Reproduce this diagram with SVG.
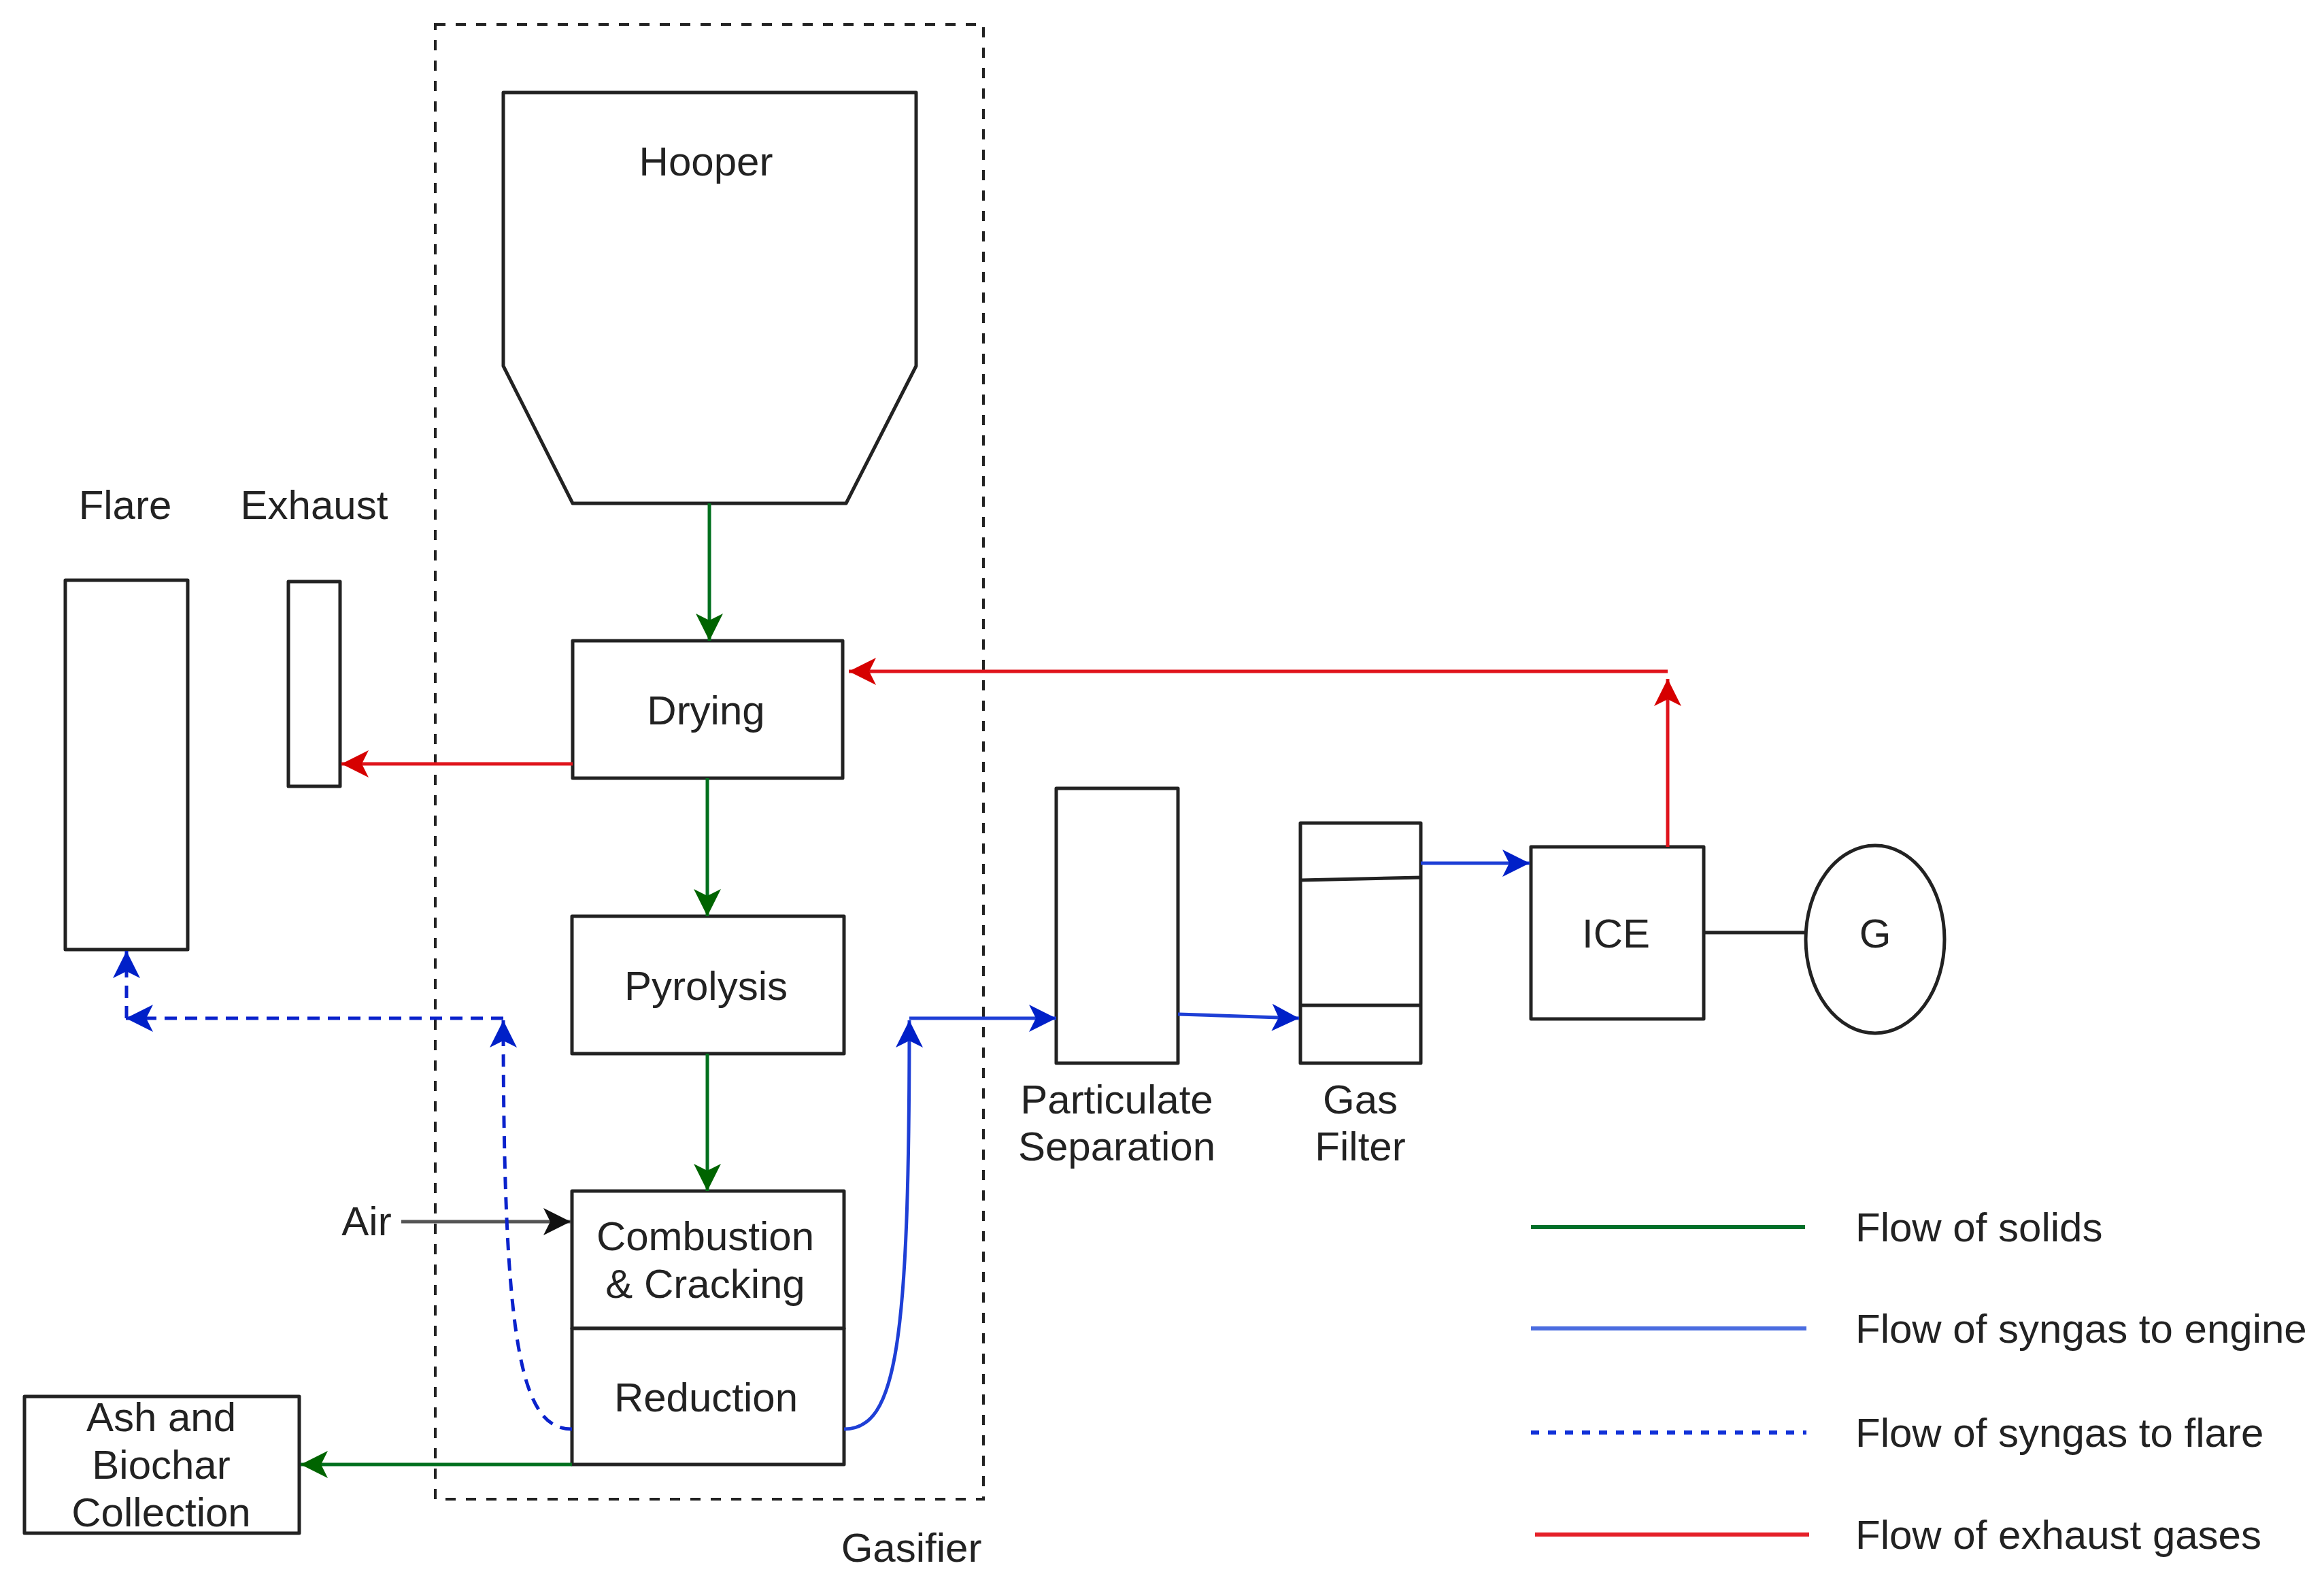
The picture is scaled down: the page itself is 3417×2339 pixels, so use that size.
<svg xmlns="http://www.w3.org/2000/svg" width="3417" height="2339" viewBox="0 0 3417 2339">
<style>
.box{fill:#fff;stroke:#222;stroke-width:5;stroke-linejoin:round}
.t{font-family:"Liberation Sans",Arial,sans-serif;font-size:60px;fill:#222;text-anchor:middle}
.tl{font-family:"Liberation Sans",Arial,sans-serif;font-size:60px;fill:#222;text-anchor:start}
.g{fill:none;stroke:#00701E;stroke-width:5}
.r{fill:none;stroke:#E0141C;stroke-width:5}
.b{fill:none;stroke:#1E3FD6;stroke-width:5}
.bd{fill:none;stroke:#0A22CC;stroke-width:5;stroke-dasharray:18 12}
.k{fill:none;stroke:#555;stroke-width:5}
</style>
<defs>
<marker id="ag" viewBox="0 0 40 40" refX="40" refY="20" markerWidth="40" markerHeight="40" markerUnits="userSpaceOnUse" orient="auto"><path d="M0,0 L40,20 L0,40 L10,20 Z" fill="#006400"/></marker>
<marker id="ar" viewBox="0 0 40 40" refX="40" refY="20" markerWidth="40" markerHeight="40" markerUnits="userSpaceOnUse" orient="auto"><path d="M0,0 L40,20 L0,40 L10,20 Z" fill="#D60000"/></marker>
<marker id="ab" viewBox="0 0 40 40" refX="40" refY="20" markerWidth="40" markerHeight="40" markerUnits="userSpaceOnUse" orient="auto"><path d="M0,0 L40,20 L0,40 L10,20 Z" fill="#0020C8"/></marker>
<marker id="ak" viewBox="0 0 40 40" refX="40" refY="20" markerWidth="40" markerHeight="40" markerUnits="userSpaceOnUse" orient="auto"><path d="M0,0 L40,20 L0,40 L10,20 Z" fill="#111"/></marker>
</defs>
<rect width="3417" height="2339" fill="#fff"/>

<g id="gasifier">
<rect x="640" y="36" width="806" height="2168" fill="none" stroke="#222" stroke-width="4" stroke-dasharray="15 15"/>
<text class="t" x="1340" y="2296">Gasifier</text>
</g>

<g id="hopper">
<polygon class="box" points="740,136 1347,136 1347,538 1244,740 842,740 740,538"/>
<text class="t" x="1038" y="258">Hooper</text>
</g>

<g id="drying">
<rect class="box" x="842" y="942" width="397" height="202"/>
<text class="t" x="1038" y="1065">Drying</text>
</g>

<g id="pyrolysis">
<rect class="box" x="841" y="1347" width="400" height="202"/>
<text class="t" x="1038" y="1470">Pyrolysis</text>
</g>

<g id="combustion">
<rect class="box" x="841" y="1751" width="400" height="202"/>
<text class="t" x="1037" y="1838">Combustion</text>
<text class="t" x="1037" y="1908">&amp; Cracking</text>
</g>

<g id="reduction">
<rect class="box" x="841" y="1953" width="400" height="200"/>
<text class="t" x="1038" y="2075">Reduction</text>
</g>

<g id="flare">
<rect class="box" x="96" y="853" width="180" height="543"/>
<text class="t" x="184" y="763">Flare</text>
</g>

<g id="exhaust">
<rect class="box" x="424" y="855" width="76" height="301"/>
<text class="t" x="462" y="763">Exhaust</text>
</g>

<g id="ash">
<rect class="box" x="36" y="2053" width="404" height="201"/>
<text class="t" x="237" y="2104">Ash and</text>
<text class="t" x="237" y="2174">Biochar</text>
<text class="t" x="237" y="2244">Collection</text>
</g>

<g id="air">
<text class="t" x="539" y="1816">Air</text>
</g>

<g id="particulate">
<rect class="box" x="1553" y="1159" width="179" height="404"/>
<text class="t" x="1642" y="1637">Particulate</text>
<text class="t" x="1642" y="1706">Separation</text>
</g>

<g id="gasfilter">
<rect class="box" x="1912" y="1210" width="177" height="353"/>
<path d="M1912,1294 L2089,1290 M1912,1478 L2089,1478" fill="none" stroke="#222" stroke-width="5"/>
<text class="t" x="2000" y="1637">Gas</text>
<text class="t" x="2000" y="1706">Filter</text>
</g>

<g id="ice">
<rect class="box" x="2251" y="1245" width="254" height="253"/>
<text class="t" x="2376" y="1393">ICE</text>
</g>

<g id="generator">
<ellipse cx="2757" cy="1381" rx="102" ry="138" fill="#fff" stroke="#222" stroke-width="5"/>
<text class="t" x="2757" y="1393">G</text>
</g>

<g id="connectors">
<path class="g" d="M1043,740 L1043,942" marker-end="url(#ag)"/>
<path class="g" d="M1040,1144 L1040,1347" marker-end="url(#ag)"/>
<path class="g" d="M1040,1549 L1040,1751" marker-end="url(#ag)"/>
<path class="g" d="M841,2153 L442,2153" marker-end="url(#ag)"/>
<path class="k" d="M590,1796 L839,1796" marker-end="url(#ak)"/>
<path class="r" d="M842,1123 L502,1123" marker-end="url(#ar)"/>
<path class="r" d="M2452,1245 L2452,998" marker-end="url(#ar)"/>
<path class="r" d="M2452,987 L1248,987" marker-end="url(#ar)"/>
<path class="b" d="M1241,2101 C1318,2101 1337,1980 1337,1500" marker-end="url(#ab)"/>
<path class="b" d="M1337,1497 L1553,1497" marker-end="url(#ab)"/>
<path class="b" d="M1732,1491 L1910,1497" marker-end="url(#ab)"/>
<path class="b" d="M2089,1269 L2249,1269" marker-end="url(#ab)"/>
<path class="bd" d="M841,2101 C766,2101 740,1980 740,1500" marker-end="url(#ab)"/>
<path class="bd" d="M740,1497 L185,1497" marker-end="url(#ab)"/>
<path class="bd" d="M186,1497 L186,1398" marker-end="url(#ab)"/>
<path d="M2505,1371 L2655,1371" fill="none" stroke="#222" stroke-width="5"/>
</g>

<g id="legend">
<line x1="2251" y1="1804" x2="2654" y2="1804" stroke="#00702A" stroke-width="6"/>
<line x1="2251" y1="1953" x2="2656" y2="1953" stroke="#4A6CE0" stroke-width="6"/>
<line x1="2251" y1="2106" x2="2656" y2="2106" stroke="#1030D8" stroke-width="6" stroke-dasharray="12 13"/>
<line x1="2257" y1="2256" x2="2660" y2="2256" stroke="#E52028" stroke-width="6"/>
<text class="tl" x="2728" y="1825">Flow of solids</text>
<text class="tl" x="2728" y="1974">Flow of syngas to engine</text>
<text class="tl" x="2728" y="2127">Flow of syngas to flare</text>
<text class="tl" x="2728" y="2277">Flow of exhaust gases</text>
</g>
</svg>
